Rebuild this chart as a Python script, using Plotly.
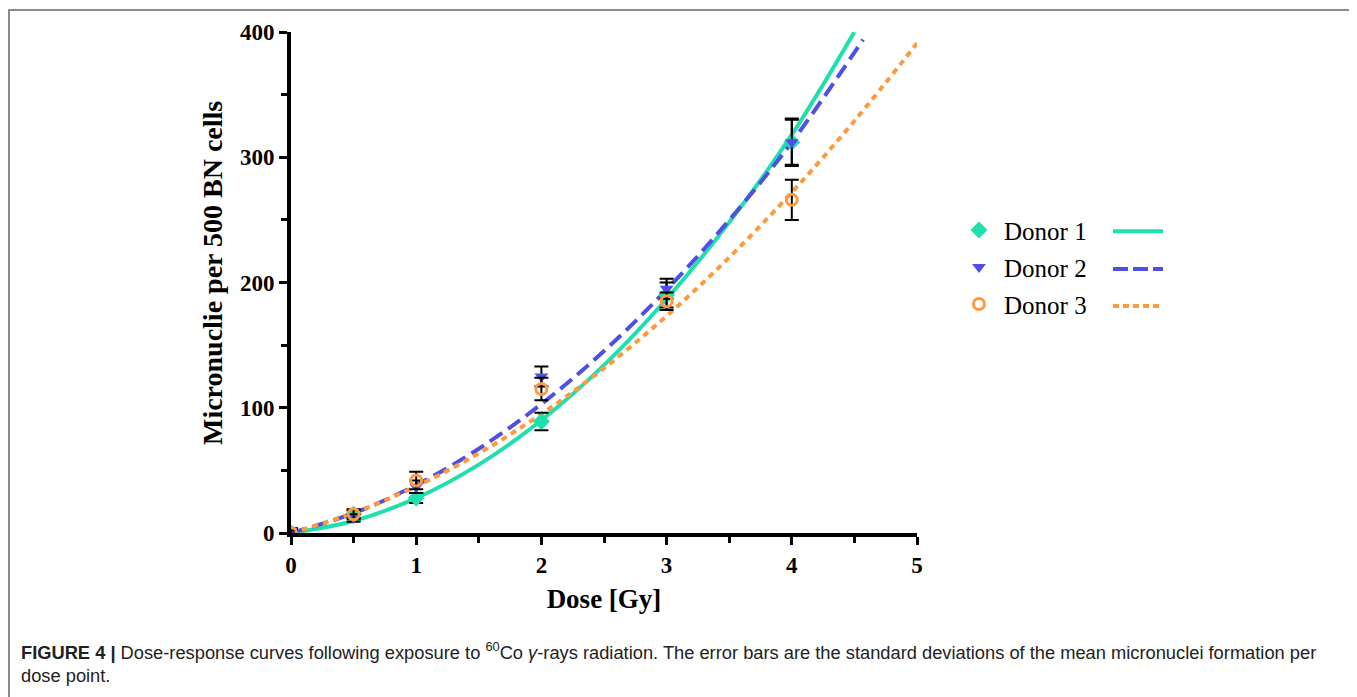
import plotly.graph_objects as go

# ---------------- data ----------------
dose = [0, 0.5, 1, 2, 3, 4]
donor1 = [0, 15, 28, 89, 190, 312]
donor1_sd = [2, 3, 4, 7, 10, 18]
donor2 = [2, 12, 37, 125, 195, 312]
donor2_sd = [2, 3, 5, 8, 8, 19]
donor3 = [0, 15, 42, 115, 185, 266]
donor3_sd = [2, 4, 7, 9, 7, 16]

fit_dose1 = [0, 0.5, 1, 1.5, 2, 2.5, 3, 3.5, 4, 4.5]
fit_donor1 = [0, 9.6, 27.8, 54.6, 90, 134, 186.8, 248, 318, 400]
fit_dose2 = [0, 0.5, 1, 1.5, 2, 2.5, 3, 3.5, 4, 4.57]
fit_donor2 = [0, 15.8, 38.3, 67.3, 103, 145.3, 194.3, 249.8, 312, 394]
fit_dose3 = [0, 0.5, 1, 1.5, 2, 2.5, 3, 3.5, 4, 4.5, 5.0]
fit_donor3 = [0, 16.1, 37.3, 63.6, 95, 131.6, 173.3, 220, 272, 329, 391]

names = ["Donor 1", "Donor 2", "Donor 3"]
x_ticks = [0, 1, 2, 3, 4, 5]
y_ticks = [0, 100, 200, 300, 400]

# ---------------- style ----------------
C1 = "#1fe0ad"
C2 = "#4f4fe6"
C3 = "#ff9a3c"
SERIF = "Liberation Serif"

OFF = 8  # page body margin of the rendered html
W, H = 1357 - OFF, 697 - OFF
L, R, T, B = 291 - OFF, 917 - OFF, 30 - OFF, 533 - OFF


def pxx(x):
    return (x - OFF - L) / (R - L)


def pxy(y):
    return (B - (y - OFF)) / (B - T)


fig = go.Figure()

# fitted curves
fig.add_trace(go.Scatter(x=fit_dose1, y=fit_donor1, mode="lines", line=dict(color=C1, width=4, shape="spline"),
                         showlegend=False, hoverinfo="skip"))
fig.add_trace(go.Scatter(x=fit_dose2, y=fit_donor2, mode="lines",
                         line=dict(color=C2, width=4, dash="15px,7px", shape="spline"),
                         showlegend=False, hoverinfo="skip"))
fig.add_trace(go.Scatter(x=fit_dose3, y=fit_donor3, mode="lines",
                         line=dict(color=C3, width=4, dash="6px,5px", shape="spline"),
                         showlegend=False, hoverinfo="skip"))

# data points with error bars
err = dict(type="data", color="black", thickness=2, width=7)
fig.add_trace(go.Scatter(x=dose, y=donor1, mode="markers", name=names[0], legendgroup="g1",
                         error_y=dict(array=donor1_sd, **err),
                         marker=dict(symbol="diamond", size=13, color=C1)))
fig.add_trace(go.Scatter(x=dose, y=donor2, mode="markers", name=names[1], legendgroup="g2",
                         error_y=dict(array=donor2_sd, **err),
                         marker=dict(symbol="triangle-down", size=12, color=C2)))
fig.add_trace(go.Scatter(x=dose, y=donor3, mode="markers", name=names[2], legendgroup="g3",
                         error_y=dict(array=donor3_sd, **err),
                         marker=dict(symbol="circle-open", size=11, color=C3, line=dict(width=3, color=C3))))

axis_common = dict(
    showline=True, linewidth=4, linecolor="black", mirror=False,
    ticks="outside", ticklen=8, tickwidth=3, tickcolor="black",
    showgrid=False, zeroline=False,
    tickfont=dict(family=SERIF, size=23, color="black", weight="bold"),
)

fig.update_xaxes(
    range=[0, 5], tickvals=x_ticks, ticktext=[str(v) for v in x_ticks],
    minor=dict(ticks="outside", ticklen=6, tickwidth=3, tickcolor="black", dtick=0.5, tick0=0),
    title=dict(text="Dose [Gy]", font=dict(family=SERIF, size=27, color="black", weight="bold"), standoff=14),
    **axis_common,
)
fig.update_yaxes(
    range=[0, 400], tickvals=y_ticks, ticktext=[str(v) for v in y_ticks],
    minor=dict(ticks="outside", ticklen=6, tickwidth=3, tickcolor="black", dtick=50, tick0=0),
    **axis_common,
)

# legend line samples
shapes = [
    dict(type="line", xref="paper", yref="paper", x0=pxx(1113), x1=pxx(1163), y0=pxy(230), y1=pxy(230),
         line=dict(color=C1, width=4)),
    dict(type="line", xref="paper", yref="paper", x0=pxx(1113), x1=pxx(1163), y0=pxy(268), y1=pxy(268),
         line=dict(color=C2, width=4, dash="15px,5px")),
    dict(type="line", xref="paper", yref="paper", x0=pxx(1113), x1=pxx(1163), y0=pxy(305), y1=pxy(305),
         line=dict(color=C3, width=4, dash="6px,4px")),
    # figure border
    dict(type="rect", xref="paper", yref="paper", x0=pxx(9), x1=pxx(1354), y0=pxy(8), y1=pxy(720),
         line=dict(color="#666666", width=1.5), fillcolor="rgba(0,0,0,0)", layer="below"),
]

caption = ("<b>FIGURE 4 |</b> Dose-response curves following exposure to <sup>60</sup>Co <i>γ</i>-rays radiation. "
           "The error bars are the standard deviations of the mean micronuclei formation per<br>dose point.")

fig.update_layout(
    width=W, height=H,
    margin=dict(l=L, r=W - R, t=T, b=H - B, pad=0),
    paper_bgcolor="white", plot_bgcolor="white",
    shapes=shapes,
    legend=dict(x=pxx(954), y=pxy(206), xanchor="left", yanchor="top",
                font=dict(family=SERIF, size=25, color="black"),
                bgcolor="rgba(0,0,0,0)", tracegroupgap=1.5, itemwidth=40),
    annotations=[
        dict(text="Micronuclie per 500 BN cells", xref="paper", yref="paper", x=pxx(212), y=pxy(272),
             xanchor="center", yanchor="middle", textangle=-90, showarrow=False,
             font=dict(family=SERIF, size=28, color="black", weight="bold")),
        dict(text=caption, xref="paper", yref="paper", x=pxx(19), y=pxy(637),
             xanchor="left", yanchor="top", align="left", showarrow=False,
             font=dict(family="Liberation Sans", size=18.3, color="#222222")),
    ],
)

fig.write_html("out.html")
